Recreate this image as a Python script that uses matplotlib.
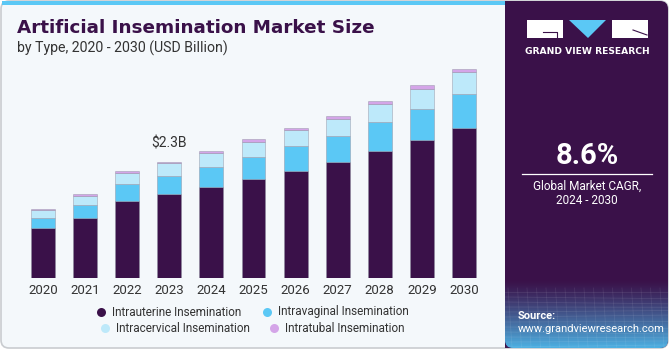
import matplotlib
matplotlib.use("Agg")
import matplotlib.pyplot as plt
import numpy as np
from matplotlib.patches import FancyBboxPatch, Rectangle, Polygon

# ---- data ----
years = ["2020", "2021", "2022", "2023", "2024", "2025", "2026", "2027", "2028", "2029", "2030"]
intrauterine = [0.99, 1.19, 1.53, 1.66, 1.81, 1.97, 2.13, 2.31, 2.53, 2.74, 2.97]
intravaginal = [0.20, 0.26, 0.34, 0.37, 0.40, 0.44, 0.48, 0.51, 0.56, 0.61, 0.67]
intracervical = [0.16, 0.18, 0.22, 0.25, 0.27, 0.29, 0.32, 0.34, 0.37, 0.40, 0.44]
intratubal = [0.02, 0.03, 0.03, 0.03, 0.04, 0.05, 0.05, 0.05, 0.05, 0.07, 0.07]
series_names = ["Intrauterine Insemination", "Intravaginal Insemination",
                "Intracervical Insemination", "Intratubal Insemination"]
annot_year = "2023"
annot_text = "$2.3B"
cagr_text = "8.6%"

colors = ["#3A1149", "#5BC8F5", "#BDE9FA", "#D4A5E8"]
W, H = 670, 350
BG = "#F4F8FB"
PURPLE = "#3A1149"

plt.rcParams['font.family'] = ['Roboto', 'DejaVu Sans']

fig = plt.figure(figsize=(W / 100, H / 100), dpi=100)
fig.patch.set_facecolor("white")

# background overlay axes in pixel coordinates
bg = fig.add_axes([0, 0, 1, 1], zorder=0)
bg.set_xlim(0, W)
bg.set_ylim(H, 0)
bg.set_autoscale_on(False)
bg.axis("off")

card = FancyBboxPatch((1, 1), W - 3, H - 3, boxstyle="round,pad=0,rounding_size=8",
                      facecolor=BG, edgecolor="#C9CCD0", linewidth=1.2, zorder=0.5)
bg.add_patch(card)
# top blue strip
bg.add_patch(Rectangle((2, 1), 505, 4, facecolor="#5BC8F5", edgecolor="none", zorder=0.6))
# right panel
panel = FancyBboxPatch((505, 1), W - 507, H - 3, boxstyle="round,pad=0,rounding_size=8",
                       facecolor=PURPLE, edgecolor="none", zorder=0.7)
bg.add_patch(panel)
bg.add_patch(Rectangle((505, 1), 10, H - 3, facecolor=PURPLE, edgecolor="none", zorder=0.7))

# gradient at bottom of panel
c0 = np.array(matplotlib.colors.to_rgb(PURPLE))
c1 = np.array(matplotlib.colors.to_rgb("#4DB0E2"))
t = np.linspace(0, 1, 100)[:, None]
t = t ** 1.2
grad = (c0[None, :] * (1 - t) + c1[None, :] * t)[:, None, :]
grad = np.repeat(grad, 2, axis=1)
im = bg.imshow(grad, extent=[505, W - 2, H - 2, 280], aspect="auto", zorder=1)
im.set_clip_path(panel)
# faint mesh lines
for k in range(12):
    yy = 292 + k * 5
    bg.plot([505, W - 2], [yy, yy + 2 * np.sin(k)], color="white", alpha=0.09, lw=0.6, zorder=2)
for k in range(18):
    xx = 508 + k * 9.5
    bg.plot([xx, xx + 4], [288, H - 3], color="white", alpha=0.08, lw=0.6, zorder=2)

# logo
bg.add_patch(Polygon([(527, 20), (563, 20), (563, 38), (527, 38)], closed=True,
                     facecolor="white", edgecolor="none", zorder=5))
bg.plot([543, 557, 557], [32, 32, 38], color=PURPLE, lw=0.8, zorder=6)
bg.add_patch(Polygon([(569, 20), (606, 20), (588, 38)], closed=True,
                     facecolor="#5BC8F5", edgecolor="none", zorder=5))
bg.add_patch(Polygon([(612, 20), (648, 20), (648, 38), (612, 38)], closed=True,
                     facecolor="white", edgecolor="none", zorder=5))
bg.plot([633, 647], [30, 35], color=PURPLE, lw=0.8, zorder=6)
bg.text(587.5, 51, "GRAND VIEW RESEARCH", color="white", fontsize=6.6, fontweight="bold",
        family=["DejaVu Sans"], ha="center", va="center", zorder=6)

bg.text(587, 156, cagr_text, color="white", fontsize=21, fontweight="bold",
        ha="center", va="center", zorder=6)
bg.plot([522, 652], [173.5, 173.5], color="white", lw=0.9, zorder=6)
bg.text(587, 186, "Global Market CAGR,", color="white", fontsize=8.5,
        ha="center", va="center", zorder=6)
bg.text(587, 201, "2024 - 2030", color="white", fontsize=8.5,
        ha="center", va="center", zorder=6)
bg.text(518, 316, "Source:", color="white", fontsize=8, fontweight="bold",
        ha="left", va="center", zorder=6)
bg.text(518, 329, "www.grandviewresearch.com", color="white", fontsize=8,
        ha="left", va="center", zorder=6)

# titles
bg.text(17, 28, "Artificial Insemination Market Size", color=PURPLE, fontsize=13.2,
        fontweight="bold", family=["DejaVu Sans"], ha="left", va="center", zorder=6)
bg.text(17, 48, "by Type, 2020 - 2030 (USD Billion)", color="#333333", fontsize=10.2,
        ha="left", va="center", zorder=6)

# legend (manual, centered rows)
leg_rows = [
    [(101, 312, 0), (267, 312, 1)],
    [(105, 328, 2), (274, 328, 3)],
]
for row in leg_rows:
    for (lx, ly, idx) in row:
        bg.scatter([lx], [ly], s=42, color=colors[idx], zorder=6, linewidths=0)
        bg.text(lx + 11, ly, series_names[idx], color="#333333", fontsize=8.5,
                ha="left", va="center", zorder=6)

# ---- chart axes ----
ax_left, ax_right = 22, 485
ax_bottom, ax_top = 278.3, 51
ax = fig.add_axes([ax_left / W, 1 - ax_bottom / H, (ax_right - ax_left) / W,
                   (ax_bottom - ax_top) / H], zorder=2)
ax.patch.set_alpha(0)
x = np.arange(len(years))
bottom = np.zeros(len(years))
for vals, col in zip([intrauterine, intravaginal, intracervical, intratubal], colors):
    ax.bar(x, vals, width=0.57, bottom=bottom, color=col,
           edgecolor=(0.55, 0.55, 0.62, 0.5), linewidth=0.6)
    bottom = bottom + np.array(vals)
ax.set_xlim(-0.5, len(years) - 0.5)
ax.set_ylim(0, 4.5)
ax.set_xticks(x)
ax.set_xticklabels(years, fontsize=9.5, color="#333333")
ax.tick_params(axis="x", length=0, pad=4)
ax.set_yticks([])
for s in ax.spines.values():
    s.set_visible(False)

ai = years.index(annot_year)
ax.text(ai, bottom[ai] + 0.22, annot_text, ha="center", va="bottom", fontsize=10, color="#333333")

fig.savefig("out.png", dpi=100, facecolor=fig.get_facecolor())
